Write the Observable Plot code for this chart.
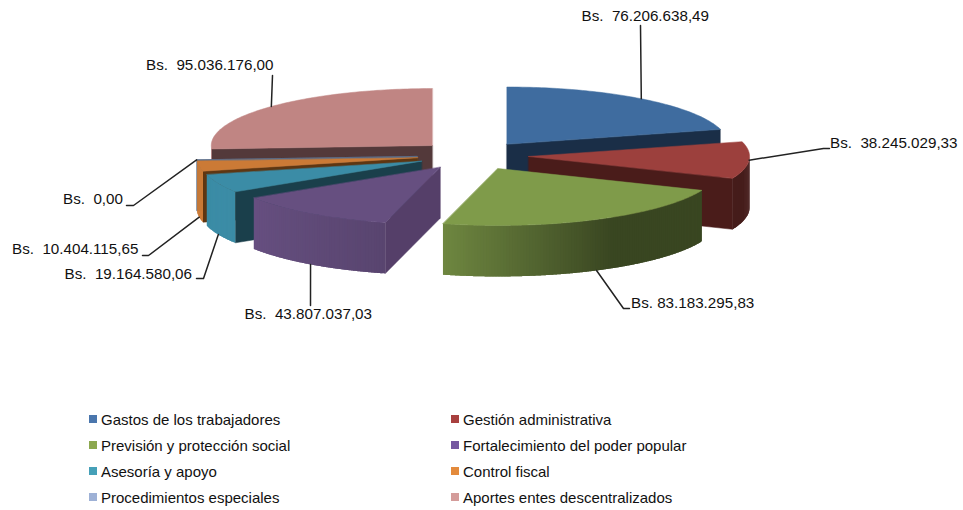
<!DOCTYPE html>
<html>
<head>
<meta charset="utf-8">
<script src="https://cdn.jsdelivr.net/npm/d3@7"></script>
<script src="https://cdn.jsdelivr.net/npm/@observablehq/plot@0.6"></script>
<style>
  html, body { margin: 0; padding: 0; background: #fff; }
  #chart { width: 963px; font-family: "Liberation Sans", Arial, sans-serif; color: #111; }
  #chart svg { display: block; }
  #chart svg text { white-space: pre; }
  #legend { display: grid; grid-template-columns: 362px 362px; grid-auto-rows: 26px; padding: 6px 0 0 89px; font-size: 15px; }
  #legend div { display: flex; align-items: center; gap: 4px; white-space: nowrap; }
  #legend i { display: block; width: 8px; height: 8px; }
</style>
</head>
<body>
<div id="chart"></div>
<script>
// ---- data
const categories = ["Gastos de los trabajadores", "Gestión administrativa", "Previsión y protección social", "Fortalecimiento del poder popular", "Asesoría y apoyo", "Control fiscal", "Procedimientos especiales", "Aportes entes descentralizados"];
const values = [76206638.49, 38245029.33, 83183295.83, 43807037.03, 19164580.06, 10404115.65, 0, 95036176.00];
const prefixes = ["Bs.  ", "Bs.  ", "Bs. ", "Bs.  ", "Bs.  ", "Bs.  ", "Bs.  ", "Bs.  "];

// ---- colours
const legendColors = ["#4a76ad", "#a8403e", "#8ca84f", "#7558a0", "#45a0b8", "#e38a3c", "#9eb1d6", "#d49c9a"];
const topColors = ["#3f6c9f", "#9c403d", "#7f9b4a", "#664f80", "#3b8ca6", "#cb7a36", "#5c6f8a", "#c08583"];
const sideColors = ["#1a2e47", "#4a1c1a", "#39431c", "#553f69", "#1a3f4b", "#5e3612", "#5c6f8a", "#53393a"];

// ---- layout of the 3D pie (pixels of the picture)
const centre = [472.4, 155];
const explode = [55.8, 14.5];
const radius = [221, 57];
const depth = 51;
const drawOrder = [7, 6, 5, 4, 3, 0, 1, 2];
// leader elbow and text position for each slice
const elbows = [[640, 25, 640, 25], [823, 148, 829, 148], [623, 308, 629, 308], [310, 305, 310, 305], [203, 278, 196, 278], [148, 255, 142, 255], [133, 205, 126, 205], [272, 75, 272, 75]];
const textX = [581, 829.5, 630.5, 244, 64, 11.5, 62.5, 145.5];
const textY = [16, 143, 303, 314, 274, 249, 199, 65];

// ---- geometry derived from the values
const rad = Math.PI / 180;
const total = d3.sum(values);
const cum = d3.cumsum(values);
const slices = values.map((v, i) => {
  const a0 = (i ? cum[i - 1] : 0) / total * 360, a1 = cum[i] / total * 360, mid = (a0 + a1) / 2;
  const ax = centre[0] + explode[0] * Math.sin(mid * rad);
  const ay = centre[1] - explode[1] * Math.cos(mid * rad);
  const rim = a => [ax + radius[0] * Math.sin(a * rad), ay - radius[1] * Math.cos(a * rad)];
  return {i, a0, a1, mid, ax, ay, rim};
});
function brightness(a) { // light falls on the front-left of the rim
  if (a <= 149) return 0.45;
  if (a <= 194.5) return 0.45 + (a - 149) / 45.5 * 0.42;
  if (a <= 237) return 0.87 + (a - 194.5) / 42.5 * 0.13;
  return 1;
}
function shade(hex, k) {
  const c = d3.rgb(hex);
  return d3.rgb(c.r * k, c.g * k, c.b * k).formatHex();
}
const polys = [];
let nextId = 0;
function poly(points, color, stroke) {
  const id = nextId++;
  for (const [x, y] of points) polys.push({id, x, y, color, stroke});
}
for (const i of drawOrder) {
  const s = slices[i];
  const apex = [s.ax, s.ay];
  const wall = a => {
    const [x, y] = s.rim(a);
    poly([apex, [x, y], [x, y + depth], [s.ax, s.ay + depth]], sideColors[i], sideColors[i]);
  };
  if (Math.sin(s.a0 * rad) < 0) wall(s.a0);
  if (Math.sin(s.a1 * rad) > 0) wall(s.a1);
  // outer rim, in thin overlapping strips carrying the lighting
  const from = Math.max(s.a0, 90), to = Math.min(s.a1, 270), step = 0.75;
  for (let a = from; a < to; a += step) {
    const b = Math.min(a + 2 * step, to);
    const pts = [];
    for (let t = a; t < b; t += 0.25) pts.push(s.rim(t));
    pts.push(s.rim(b));
    const lower = pts.slice().reverse().map(([x, y]) => [x, y + depth]);
    poly(pts.concat(lower), shade(topColors[i], brightness(a + step / 2)), "none");
  }
  // top face
  const face = [apex];
  for (let a = s.a0; a < s.a1; a += 1) face.push(s.rim(a));
  face.push(s.rim(s.a1));
  poly(face, topColors[i], topColors[i]);
}
const leaders = slices.flatMap(s => {
  const [x, y] = s.rim(s.mid);
  const front = Math.cos(s.mid * rad) < -0.1;
  const e = elbows[s.i];
  return [[x, y + (front ? depth : 0)], [e[0], e[1]], [e[2], e[3]]].map(([px, py]) => ({i: s.i, x: px, y: py}));
});
const money = d3.formatLocale({decimal: ",", thousands: ".", grouping: [3], currency: ["", ""]}).format(",.2f");
const labels = values.map((v, i) => ({text: prefixes[i] + money(v), x: textX[i], y: textY[i]}));

// ---- chart
const H = 400;
const plot = Plot.plot({
  width: 963, height: H, margin: 0,
  x: {domain: [0, 963], range: [0, 963], axis: null},
  y: {domain: [0, H], range: [0, H], axis: null},
  marks: [
    Plot.line(polys, {x: "x", y: "y", z: "id",
      fill: {value: "color", scale: null}, stroke: {value: "stroke", scale: null},
      strokeWidth: 0.5, strokeLinejoin: "round", curve: "linear-closed"}),
    Plot.line(leaders, {x: "x", y: "y", z: "i", stroke: "#222", strokeWidth: 1.5, curve: "linear"}),
    Plot.text(labels, {x: "x", y: "y", text: "text", textAnchor: "start", lineAnchor: "middle",
      fill: "#111", fontSize: 15.2, fontFamily: "Liberation Sans, Arial, sans-serif"})
  ]
});
const root = document.getElementById("chart");
root.appendChild(plot);
const legend = document.createElement("div");
legend.id = "legend";
categories.forEach((c, i) => {
  const row = document.createElement("div");
  const sw = document.createElement("i");
  sw.style.background = legendColors[i];
  const t = document.createElement("span");
  t.textContent = c;
  row.append(sw, t);
  legend.appendChild(row);
});
root.appendChild(legend);
</script>
</body>
</html>
